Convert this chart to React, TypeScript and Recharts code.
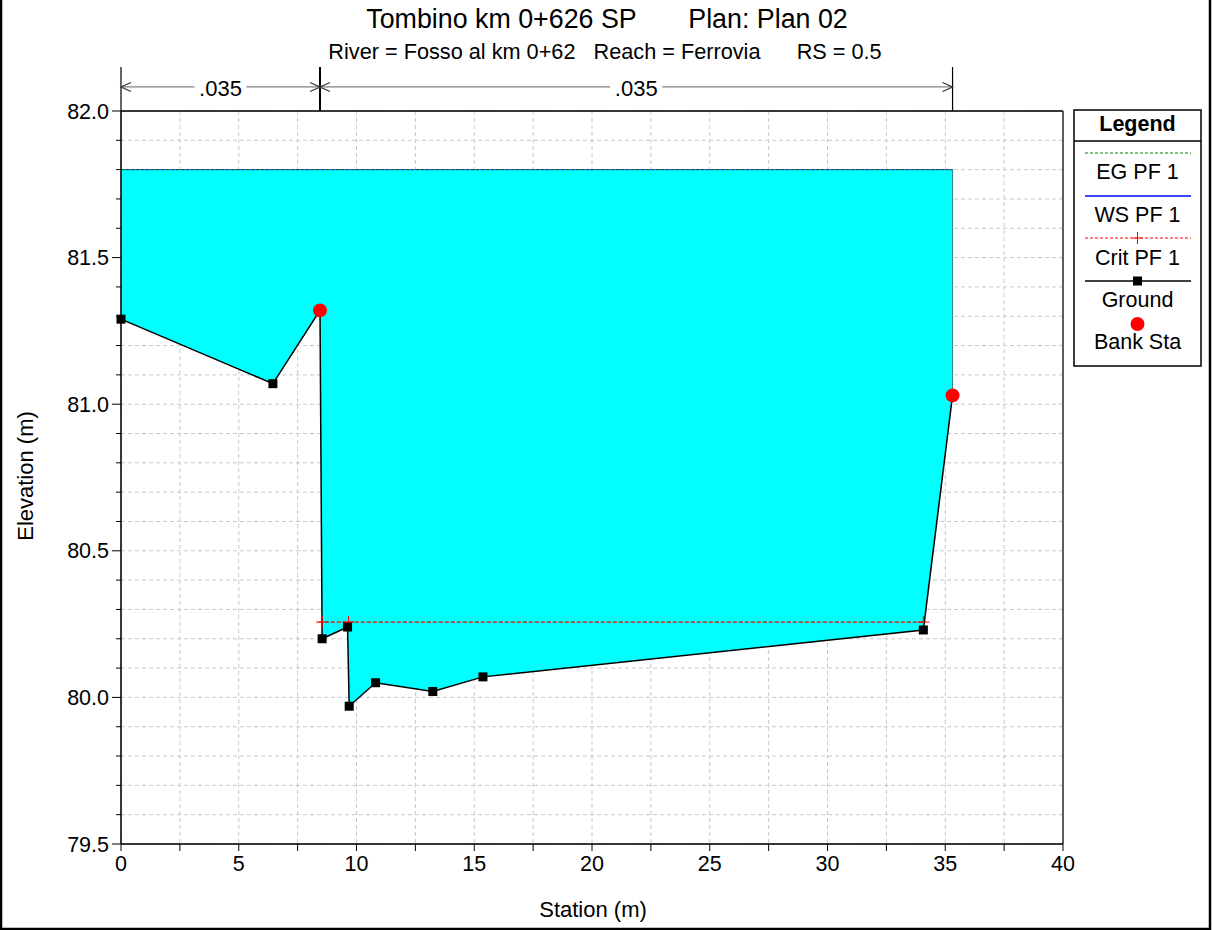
import React from "react";
import {
  ComposedChart,
  Area,
  Line,
  Scatter,
  XAxis,
  YAxis,
  CartesianGrid,
  ReferenceLine,
} from "recharts";

// ground profile (station m, elevation m)
const groundStations = [0, 6.45, 8.45, 8.54, 9.62, 9.69, 10.81, 13.24, 15.37, 34.07, 35.31];
const groundElevations = [81.29, 81.07, 81.32, 80.2, 80.24, 79.97, 80.05, 80.02, 80.07, 80.23, 81.03];

// profile PF 1
const wsStations = [0, 35.31];
const wsElevations = [81.8, 81.8];
const egStations = [0, 35.31];
const egElevations = [81.8, 81.8];
const critStations = [8.4, 8.54, 9.66, 34.07, 34.16];
const critElevations = [80.257, 80.257, 80.257, 80.257, 80.257];
const critMarked = [false, true, true, true, false];

const bankStations = [8.45, 35.31];
const bankElevations = [81.32, 81.03];

// manning n regions
const nBreaks = [0, 8.45, 35.31];
const nLabels = [".035", ".035"];

const xTicks = [0, 2.5, 5, 7.5, 10, 12.5, 15, 17.5, 20, 22.5, 25, 27.5, 30, 32.5, 35, 37.5, 40];
const xMajor = [0, 5, 10, 15, 20, 25, 30, 35, 40];
const yTicks = [
  79.5, 79.6, 79.7, 79.8, 79.9, 80.0, 80.1, 80.2, 80.3, 80.4, 80.5, 80.6, 80.7, 80.8,
  80.9, 81.0, 81.1, 81.2, 81.3, 81.4, 81.5, 81.6, 81.7, 81.8, 81.9, 82.0,
];
const yMajor = [79.5, 80.0, 80.5, 81.0, 81.5, 82.0];

const legendItems = ["EG PF 1", "WS PF 1", "Crit PF 1", "Ground", "Bank Sta"];

const FONT = "'Liberation Sans', Arial, sans-serif";
const W = 1212;
const H = 930;
const TICK_FS = 21.5;
const Y_TICK_SIZE = 9;
const Y_TICK_MARGIN = 3;
const DIM_Y = 82.082;
const DIM_TOP = 82.15;

const fillData = groundStations.map((x, i) => ({ x, range: [groundElevations[i], wsElevations[0]] }));
const groundData = groundStations.map((x, i) => ({ x, y: groundElevations[i] }));
const wsData = wsStations.map((x, i) => ({ x, y: wsElevations[i] }));
const egData = egStations.map((x, i) => ({ x, y: egElevations[i] }));
const critData = critStations.map((x, i) => ({ x, y: critElevations[i], mark: critMarked[i] }));
const bankData = bankStations.map((x, i) => ({ x, y: bankElevations[i] }));
const rightEdge = [
  { x: wsStations[1], y: wsElevations[1] },
  { x: bankStations[1], y: bankElevations[1] },
];

const isMajorY = (v: number) => Math.abs(v * 2 - Math.round(v * 2)) < 1e-6;

const YTick = (props: any) => {
  const { x, y, payload } = props;
  const v = payload.value as number;
  const major = isMajorY(v);
  const ax = x + Y_TICK_MARGIN + Y_TICK_SIZE;
  return (
    <g>
      <line x1={ax - (major ? 9 : 5)} x2={ax} y1={y} y2={y} stroke="#000" />
      {major && (
        <text x={x} y={y} dy="0.355em" textAnchor="end" fontSize={TICK_FS} fontFamily={FONT} fill="#000">
          {v.toFixed(1)}
        </text>
      )}
    </g>
  );
};

const squareDot = (p: any) => (
  <rect key={`g${p.index}`} x={p.cx - 4.5} y={p.cy - 4.5} width={9} height={9} fill="#000" />
);

const plusDot = (p: any) =>
  p.payload.mark ? (
    <path
      key={`c${p.index}`}
      d={`M${p.cx - 6},${p.cy}H${p.cx + 6}M${p.cx},${p.cy - 6}V${p.cy + 6}`}
      stroke="#ff0000"
      strokeWidth={1}
    />
  ) : (
    <g key={`c${p.index}`} />
  );

const DimArrow = (p: any) => {
  const { x1, x2, y1, text } = p;
  const mid = (x1 + x2) / 2;
  const gap = 26;
  const a = 10;
  const s = 4.5;
  return (
    <g>
      <line x1={x1} x2={mid - gap} y1={y1} y2={y1} stroke="#808080" strokeWidth={1.2} />
      <line x1={mid + gap} x2={x2} y1={y1} y2={y1} stroke="#808080" strokeWidth={1.2} />
      <path
        d={`M${x1 + a},${y1 - s}L${x1},${y1}L${x1 + a},${y1 + s}M${x2 - a},${y1 - s}L${x2},${y1}L${x2 - a},${y1 + s}`}
        stroke="#333"
        fill="none"
        strokeWidth={1.2}
      />
      <text x={mid} y={y1 + 9} textAnchor="middle" fontSize={22} fontFamily={FONT} fill="#000">
        {text}
      </text>
    </g>
  );
};

function LegendBox() {
  const left = 1074;
  const right = 1201;
  const cx = (left + right) / 2;
  const lx1 = 1085;
  const lx2 = 1191;
  const markY = [153, 196, 238, 281, 324];
  const textY = [179, 222, 265, 307, 349];
  return (
    <g fontFamily={FONT} fill="#000">
      <rect x={left} y={110} width={right - left} height={256} fill="#fff" stroke="#000" strokeWidth={1.5} />
      <line x1={left} x2={right} y1={141} y2={141} stroke="#000" strokeWidth={1.5} />
      <text x={cx} y={131} textAnchor="middle" fontSize={21.5} fontWeight="bold">
        Legend
      </text>
      <line x1={lx1} x2={lx2} y1={markY[0]} y2={markY[0]} stroke="#008000" strokeDasharray="3 2" />
      <line x1={lx1} x2={lx2} y1={markY[1]} y2={markY[1]} stroke="#3c46ff" strokeWidth={2} />
      <line x1={lx1} x2={lx2} y1={markY[2]} y2={markY[2]} stroke="#ff0000" strokeDasharray="3 2" />
      <path d={`M${cx},${markY[2] - 6}V${markY[2] + 6}M${cx - 5},${markY[2]}H${cx + 5}`} stroke="#ff0000" />
      <line x1={lx1} x2={lx2} y1={markY[3]} y2={markY[3]} stroke="#000" strokeWidth={1.5} />
      <rect x={cx - 4.5} y={markY[3] - 4.5} width={9} height={9} fill="#000" />
      <circle cx={cx} cy={markY[4]} r={7} fill="#ff0000" />
      {legendItems.map((t, i) => (
        <text key={t} x={cx} y={textY[i]} textAnchor="middle" fontSize={21.5}>
          {t}
        </text>
      ))}
    </g>
  );
}

export default function App() {
  return (
    <div style={{ position: "absolute", left: 0, top: 0, width: W, height: H, background: "#fff", fontFamily: FONT }}>
      <ComposedChart
        width={W}
        height={H}
        margin={{ top: 111, right: 149, bottom: 46, left: 51 }}
        style={{ position: "absolute", left: 0, top: 0 }}
      >
        <CartesianGrid stroke="#c8c8c8" strokeDasharray="4 3" />
        <CartesianGrid stroke="#c8c8c8" xAxisId="major" yAxisId="major" />
        <XAxis
          dataKey="x"
          type="number"
          domain={[0, 40]}
          ticks={xTicks}
          interval={0}
          height={40}
          tickSize={7}
          tickMargin={5}
          tickFormatter={(v: number) => (v % 5 === 0 ? String(v) : "")}
          tick={{ fontSize: TICK_FS, fill: "#000", fontFamily: FONT }}
          axisLine={{ stroke: "#000", strokeWidth: 1.5 }}
          tickLine={{ stroke: "#000" }}
        />
        <XAxis
          xAxisId="major"
          dataKey="x"
          type="number"
          domain={[0, 40]}
          ticks={xMajor}
          interval={0}
          hide
        />
        <YAxis
          type="number"
          domain={[79.5, 82]}
          ticks={yTicks}
          interval={0}
          width={70}
          tickSize={Y_TICK_SIZE}
          tickMargin={Y_TICK_MARGIN}
          tickLine={false}
          tick={YTick}
          axisLine={{ stroke: "#000", strokeWidth: 1.5 }}
        />
        <YAxis
          yAxisId="major"
          type="number"
          domain={[79.5, 82]}
          ticks={yMajor}
          interval={0}
          hide
        />
        <Area
          data={fillData}
          dataKey="range"
          type="linear"
          fill="#00ffff"
          fillOpacity={1}
          stroke="none"
          isAnimationActive={false}
        />
        <ReferenceLine y={82} stroke="#000" strokeWidth={1.5} />
        <ReferenceLine x={40} stroke="#333" strokeWidth={1.5} />
        <Line
          data={rightEdge}
          dataKey="y"
          type="linear"
          stroke="#2f7f7f"
          strokeWidth={1}
          dot={false}
          isAnimationActive={false}
        />
        <Line
          data={wsData}
          dataKey="y"
          type="linear"
          stroke="#3c46ff"
          strokeWidth={1}
          dot={false}
          isAnimationActive={false}
        />
        <Line
          data={egData}
          dataKey="y"
          type="linear"
          stroke="#006400"
          strokeWidth={1}
          strokeDasharray="3 2"
          dot={false}
          isAnimationActive={false}
        />
        <Line
          data={critData}
          dataKey="y"
          type="linear"
          stroke="#ff0000"
          strokeWidth={1.2}
          strokeDasharray="4 2"
          dot={plusDot}
          isAnimationActive={false}
        />
        <Line
          data={groundData}
          dataKey="y"
          type="linear"
          stroke="#000"
          strokeWidth={1.5}
          dot={squareDot}
          isAnimationActive={false}
        />
        <Scatter
          data={bankData}
          dataKey="y"
          fill="#ff0000"
          shape={(p: any) => <circle cx={p.cx} cy={p.cy} r={7} fill="#ff0000" />}
          isAnimationActive={false}
        />
        {nBreaks.map((b, i) => (
          <ReferenceLine
            key={`v${i}`}
            segment={[
              { x: b, y: 82 },
              { x: b, y: DIM_TOP },
            ]}
            ifOverflow="visible"
            stroke="#000"
            strokeWidth={i === 1 ? 2 : 1.2}
          />
        ))}
        {nLabels.map((t, i) => (
          <ReferenceLine
            key={`n${i}`}
            segment={[
              { x: nBreaks[i], y: DIM_Y },
              { x: nBreaks[i + 1], y: DIM_Y },
            ]}
            ifOverflow="visible"
            shape={(p: any) => <DimArrow {...p} text={t} />}
          />
        ))}
      </ComposedChart>
      <svg
        width={W}
        height={H}
        style={{ position: "absolute", left: 0, top: 0, pointerEvents: "none" }}
        fontFamily={FONT}
      >
        <text x={607} y={28} textAnchor="middle" fontSize={26.8} fill="#000" style={{ whiteSpace: "pre" }}>
          {"Tombino km 0+626 SP       Plan: Plan 02"}
        </text>
        <text x={605} y={59} textAnchor="middle" fontSize={21.7} fill="#000" style={{ whiteSpace: "pre" }}>
          {"River = Fosso al km 0+62   Reach = Ferrovia      RS = 0.5"}
        </text>
        <text x={593} y={917} textAnchor="middle" fontSize={22} fill="#000">
          Station (m)
        </text>
        <text x={33} y={476} textAnchor="middle" fontSize={22} fill="#000" transform="rotate(-90 33 476)">
          Elevation (m)
        </text>
        <LegendBox />
        <path d={`M1,0V${H - 1}H${W - 2}V0`} stroke="#000" strokeWidth={2.5} fill="none" />
      </svg>
    </div>
  );
}
